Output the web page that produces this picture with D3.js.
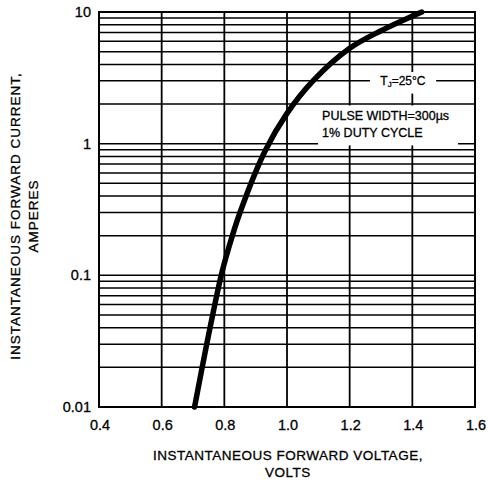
<!DOCTYPE html>
<html>
<head>
<meta charset="utf-8">
<script src="https://cdn.jsdelivr.net/npm/d3@7"></script>
<style>
  body { margin: 0; background: #fff; }
  text { font-family: "Liberation Sans", Arial, sans-serif; fill: #000; stroke: #000; stroke-width: 0.3px; }
</style>
</head>
<body>
<div id="chart"></div>
<script>
// Curve
var voltage = [0.705, 0.745, 0.79, 0.812, 0.85, 0.93, 1.0, 1.083, 1.2, 1.3, 1.43];
var current = [0.01, 0.031, 0.1, 0.156, 0.3, 0.88, 1.7, 3.0, 5.3, 7.2, 10];

var xTicks = [0.4, 0.6, 0.8, 1.0, 1.2, 1.4, 1.6];
var yTicks = [0.01, 0.1, 1, 10];
var yTickLabels = ["0.01", "0.1", "1", "10"];

var svgWidth = 488;
var svgHeight = 481;
var margin = { top: 12, right: 13, bottom: 74, left: 99 };
var width = svgWidth - margin.left - margin.right;
var height = svgHeight - margin.top - margin.bottom;

var svg = d3.select("#chart")
    .append("svg")
    .attr("width", svgWidth)
    .attr("height", svgHeight);

var chartGroup = svg.append("g")
    .attr("transform", `translate(${margin.left}, ${margin.top})`);

var xScale = d3.scaleLinear().domain([0.4, 1.6]).range([0, width]);
var yScale = d3.scaleLog().domain([0.01, 10]).range([height, 0]);

// horizontal grid: 1..9 in every decade
var hGrid = [];
[0.01, 0.1, 1].forEach(function(dec) {
    for (var k = 1; k <= 9; k++) hGrid.push(dec * k);
});
hGrid.push(10);

chartGroup.append("g").selectAll("line")
    .data(hGrid)
    .enter()
    .append("line")
    .attr("x1", 0)
    .attr("x2", width)
    .attr("y1", d => yScale(d))
    .attr("y2", d => yScale(d))
    .attr("stroke", "#000")
    .attr("stroke-width", 1.5);

chartGroup.append("g").selectAll("line")
    .data(xTicks)
    .enter()
    .append("line")
    .attr("x1", d => xScale(d))
    .attr("x2", d => xScale(d))
    .attr("y1", 0)
    .attr("y2", height)
    .attr("stroke", "#000")
    .attr("stroke-width", 1.8);

// white boxes that break the grid behind the notes
chartGroup.append("rect")
    .attr("x", xScale(1.265)).attr("y", yScale(3.5))
    .attr("width", xScale(1.476) - xScale(1.265)).attr("height", yScale(2.4) - yScale(3.5))
    .attr("fill", "#fff");
chartGroup.append("rect")
    .attr("x", xScale(1.099)).attr("y", yScale(1.95))
    .attr("width", xScale(1.546) - xScale(1.099)).attr("height", yScale(0.97) - yScale(1.95))
    .attr("fill", "#fff");

// border
chartGroup.append("rect")
    .attr("width", width).attr("height", height)
    .attr("fill", "none").attr("stroke", "#000").attr("stroke-width", 2);

// curve
var points = voltage.map((v, i) => [v, current[i]]);
var line = d3.line()
    .x(d => xScale(d[0]))
    .y(d => yScale(d[1]))
    .curve(d3.curveCatmullRom.alpha(0.5));

chartGroup.append("path")
    .datum(points)
    .attr("d", line)
    .attr("fill", "none")
    .attr("stroke", "#000")
    .attr("stroke-width", 5.5)
    .attr("stroke-linecap", "round");

// annotations
var tj = chartGroup.append("text")
    .attr("x", xScale(1.37))
    .attr("y", yScale(3.0) + 4)
    .attr("text-anchor", "middle")
    .style("font-size", "12px");
tj.append("tspan").text("T");
tj.append("tspan").attr("dy", 2).style("font-size", "8px").text("J");
tj.append("tspan").attr("dy", -2).text("=25°C");

chartGroup.append("text")
    .attr("x", xScale(1.112))
    .attr("y", yScale(1.5))
    .style("font-size", "12.5px")
    .text("PULSE WIDTH=300µs");
chartGroup.append("text")
    .attr("x", xScale(1.112))
    .attr("y", yScale(1.12))
    .style("font-size", "12.5px")
    .text("1% DUTY CYCLE");

// tick labels
chartGroup.append("g").selectAll("text")
    .data(xTicks)
    .enter()
    .append("text")
    .attr("x", d => xScale(d) + 1)
    .attr("y", height + 23)
    .attr("text-anchor", "middle")
    .style("font-size", "14.5px")
    .text(d => d.toFixed(1));

chartGroup.append("g").selectAll("text")
    .data(yTicks)
    .enter()
    .append("text")
    .attr("x", -8)
    .attr("y", d => yScale(d) + 5)
    .attr("text-anchor", "end")
    .style("font-size", "14.5px")
    .text((d, i) => yTickLabels[i]);

// axis titles
svg.append("text")
    .attr("x", 288).attr("y", 460)
    .attr("text-anchor", "middle")
    .style("font-size", "13.5px")
    .style("letter-spacing", "0.5px")
    .text("INSTANTANEOUS FORWARD VOLTAGE,");
svg.append("text")
    .attr("x", 288).attr("y", 477)
    .attr("text-anchor", "middle")
    .style("font-size", "13.5px")
    .style("letter-spacing", "0.5px")
    .text("VOLTS");

svg.append("text")
    .attr("transform", "translate(20, 216) rotate(-90)")
    .attr("text-anchor", "middle")
    .style("font-size", "13.5px")
    .style("letter-spacing", "1px")
    .text("INSTANTANEOUS FORWARD CURRENT,");
svg.append("text")
    .attr("transform", "translate(38, 216) rotate(-90)")
    .attr("text-anchor", "middle")
    .style("font-size", "13.5px")
    .style("letter-spacing", "1px")
    .text("AMPERES");
</script>
</body>
</html>
